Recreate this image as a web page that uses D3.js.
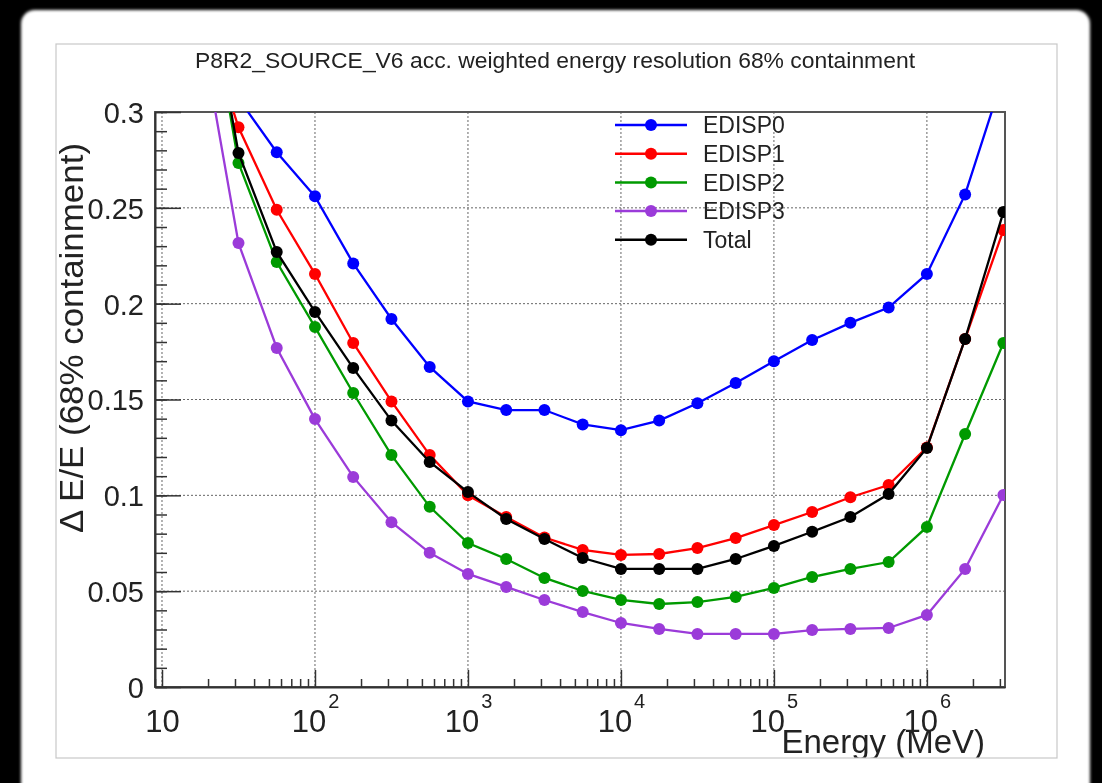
<!DOCTYPE html>
<html>
<head>
<meta charset="utf-8">
<script src="https://cdn.jsdelivr.net/npm/d3@7"></script>
<style>
  body { margin: 0; background: #000; }
  svg { display: block; }
  text { font-family: "Liberation Sans", Arial, Helvetica, sans-serif; fill: #222; }
</style>
</head>
<body>
<div id="chart"></div>
<script>

// energies of the bins (MeV), 4 per decade
var energies = [17.78, 31.62, 56.23, 100, 177.8, 316.2, 562.3, 1000, 1778, 3162, 5623, 10000,
  17780, 31620, 56230, 100000, 177800, 316200, 562300, 1000000, 1778000, 3162000];

// energy resolution (68% containment) for each event type
var edisp0 = [0.37, 0.307, 0.279, 0.256, 0.221, 0.192, 0.167, 0.149, 0.1445, 0.1445, 0.137, 0.134,
  0.139, 0.148, 0.1586, 0.170, 0.181, 0.190, 0.198, 0.2155, 0.257, 0.319];
var edisp1 = [0.355, 0.292, 0.249, 0.2155, 0.1795, 0.149, 0.121, 0.100, 0.0887, 0.078, 0.0715, 0.0689,
  0.0694, 0.0725, 0.0777, 0.0845, 0.0913, 0.099, 0.1054, 0.125, 0.1816, 0.2384];
var edisp2 = [0.39, 0.2734, 0.2217, 0.1878, 0.1534, 0.121, 0.094, 0.0751, 0.0668, 0.0569, 0.0501, 0.0454,
  0.0433, 0.0443, 0.047, 0.0517, 0.0574, 0.0616, 0.0652, 0.0835, 0.132, 0.1795];
var edisp3 = [0.345, 0.2316, 0.1769, 0.1398, 0.1096, 0.086, 0.070, 0.059, 0.0522, 0.0454, 0.0391, 0.0334,
  0.0303, 0.0277, 0.0277, 0.0277, 0.0297, 0.0303, 0.0308, 0.0376, 0.0616, 0.1002];
var total = [0.39, 0.2786, 0.227, 0.1957, 0.1664, 0.139, 0.1174, 0.1017, 0.0877, 0.0772, 0.0673, 0.0616,
  0.0616, 0.0616, 0.0668, 0.0736, 0.081, 0.0887, 0.1007, 0.1247, 0.1816, 0.2478];

var seriesNames = ["EDISP0", "EDISP1", "EDISP2", "EDISP3", "Total"];
var seriesColors = ["#0000ff", "#ff0000", "#009a00", "#9b3bd9", "#000000"];
var seriesValues = [edisp0, edisp1, edisp2, edisp3, total];

// axis ticks
var xDecades = [10, 100, 1000, 10000, 100000, 1000000];
var xExponents = ["", "2", "3", "4", "5", "6"];
var yTicks = [0, 0.05, 0.1, 0.15, 0.2, 0.25, 0.3];
var yTickLabels = ["0", "0.05", "0.1", "0.15", "0.2", "0.25", "0.3"];

var titleText = "P8R2_SOURCE_V6 acc. weighted energy resolution 68% containment";

// SVG attributes
var W = 1102, H = 783;
var plot = {left: 155, right: 1005, top: 112, bottom: 687};

var svg = d3.select("#chart").append("svg")
    .attr("width", W)
    .attr("height", H);

var defs = svg.append("defs");
defs.append("filter").attr("id", "soft")
    .append("feGaussianBlur").attr("stdDeviation", 1.6);
defs.append("filter").attr("id", "fuzz")
    .append("feGaussianBlur").attr("stdDeviation", 0.45);
defs.append("clipPath").attr("id", "plotclip")
  .append("rect")
    .attr("x", plot.left).attr("y", plot.top)
    .attr("width", plot.right - plot.left)
    .attr("height", plot.bottom - plot.top);
defs.append("clipPath").attr("id", "canvasclip")
  .append("rect")
    .attr("x", 56).attr("y", 44).attr("width", 1001).attr("height", 714);

// window background
svg.append("rect")
    .attr("width", W).attr("height", H).attr("fill", "#000");
svg.append("rect")
    .attr("x", 21).attr("y", 10).attr("width", 1069).attr("height", 820)
    .attr("rx", 14)
    .attr("fill", "#fff")
    .attr("filter", "url(#soft)");

var canvas = svg.append("g").attr("clip-path", "url(#canvasclip)")
  .append("g").attr("filter", "url(#fuzz)");

canvas.append("rect")
    .attr("x", 56).attr("y", 44).attr("width", 1001).attr("height", 714)
    .attr("fill", "#fff");

// scales
var x = d3.scaleLog().domain([9.0, 3.24e6]).range([plot.left, plot.right]);
var y = d3.scaleLinear().domain([0, 0.3]).range([plot.bottom, plot.top]);

// grid
canvas.append("g").selectAll("line")
    .data(xDecades)
    .enter().append("line")
    .attr("x1", function(d) { return x(d); })
    .attr("x2", function(d) { return x(d); })
    .attr("y1", plot.top)
    .attr("y2", plot.bottom)
    .attr("stroke", "#666")
    .attr("stroke-width", 1)
    .attr("stroke-dasharray", "2,2");

canvas.append("g").selectAll("line")
    .data(yTicks.slice(1, -1))
    .enter().append("line")
    .attr("x1", plot.left)
    .attr("x2", plot.right)
    .attr("y1", function(d) { return y(d); })
    .attr("y2", function(d) { return y(d); })
    .attr("stroke", "#666")
    .attr("stroke-width", 1)
    .attr("stroke-dasharray", "2,2");

// frame
canvas.append("rect")
    .attr("x", plot.left).attr("y", plot.top)
    .attr("width", plot.right - plot.left)
    .attr("height", plot.bottom - plot.top)
    .attr("fill", "none")
    .attr("stroke", "#555")
    .attr("stroke-width", 2);

// y axis: minor ticks then major ticks with labels
var yMinor = d3.range(0, 0.3001, 0.01);
canvas.append("g")
    .attr("transform", "translate(" + plot.left + ",0)")
    .call(d3.axisLeft(y).tickValues(yMinor).tickSize(-12).tickSizeOuter(0).tickFormat(""))
    .call(function(g) { g.select(".domain").remove(); })
    .selectAll("line").attr("stroke", "#333").attr("stroke-width", 1.5);

var yAxis = canvas.append("g")
    .attr("transform", "translate(" + plot.left + ",0)")
    .call(d3.axisLeft(y).tickValues(yTicks).tickSize(-26).tickSizeOuter(0).tickPadding(11)
      .tickFormat(function(d, i) { return yTickLabels[i]; }));
yAxis.select(".domain").attr("stroke", "#333").attr("stroke-width", 2);
yAxis.selectAll("line").attr("stroke", "#333").attr("stroke-width", 1.5);
yAxis.selectAll("text")
    .attr("font-size", 29)
    .attr("fill", "#222")
    .attr("dy", "0.36em")
    .style("font-family", "'Liberation Sans', Arial, sans-serif");

// x axis: minor ticks (2..9 x 10^n)
var xMinor = x.ticks().filter(function(d) { return xDecades.indexOf(d) < 0; });
canvas.append("g")
    .attr("transform", "translate(0," + plot.bottom + ")")
    .call(d3.axisBottom(x).tickValues(xMinor).tickSize(-8).tickSizeOuter(0).tickFormat(""))
    .call(function(g) { g.select(".domain").remove(); })
    .selectAll("line").attr("stroke", "#333").attr("stroke-width", 1.5);

var xAxis = canvas.append("g")
    .attr("transform", "translate(0," + plot.bottom + ")")
    .call(d3.axisBottom(x).tickValues(xDecades).tickSize(-17).tickSizeOuter(0).tickFormat(""));
xAxis.select(".domain").attr("stroke", "#333").attr("stroke-width", 2);
xAxis.selectAll("line").attr("stroke", "#333").attr("stroke-width", 1.5);

// labels 10, 10^2 ... with superscripts
xAxis.selectAll(".tick").each(function(d, i) {
  var t = d3.select(this).append("text")
      .attr("y", 45)
      .attr("text-anchor", "middle")
      .attr("font-size", 31)
      .attr("fill", "#222")
      .text("10");
  if (xExponents[i] != "") {
    t.append("tspan")
        .attr("dx", 2)
        .attr("dy", -24)
        .attr("font-size", 20)
        .text(xExponents[i]);
  }
});

// curves
var line = d3.line()
    .x(function(d) { return x(d.e); })
    .y(function(d) { return y(d.v); });

var curves = canvas.append("g").attr("clip-path", "url(#plotclip)");

// total is drawn last so it sits on top
seriesNames.forEach(function(name, k) {
  var pts = energies.map(function(e, j) { return {e: e, v: seriesValues[k][j]}; });
  var g = curves.append("g").attr("class", "series");
  g.append("path")
      .datum(pts)
      .attr("d", line)
      .attr("fill", "none")
      .attr("stroke", seriesColors[k])
      .attr("stroke-width", 2.3);
  g.selectAll("circle")
      .data(pts)
      .enter().append("circle")
      .attr("cx", function(d) { return x(d.e); })
      .attr("cy", function(d) { return y(d.v); })
      .attr("r", 6)
      .attr("fill", seriesColors[k]);
});

// legend
var legend = canvas.append("g").attr("transform", "translate(615,125)");
var rows = legend.selectAll("g")
    .data(seriesNames)
    .enter().append("g")
    .attr("transform", function(d, i) { return "translate(0," + (i * 28.7) + ")"; });
rows.append("line")
    .attr("x1", 0).attr("x2", 72)
    .attr("stroke", function(d, i) { return seriesColors[i]; })
    .attr("stroke-width", 2.5);
rows.append("circle")
    .attr("cx", 36).attr("r", 6)
    .attr("fill", function(d, i) { return seriesColors[i]; });
rows.append("text")
    .attr("x", 88)
    .attr("dy", "0.36em")
    .attr("font-size", 23)
    .text(function(d) { return d; });

// title
canvas.append("text")
    .attr("x", 555).attr("y", 68)
    .attr("text-anchor", "middle")
    .attr("font-size", 22)
    .attr("textLength", 720)
    .attr("lengthAdjust", "spacingAndGlyphs")
    .text(titleText);

// axis titles
canvas.append("text")
    .attr("x", 985).attr("y", 753)
    .attr("text-anchor", "end")
    .attr("font-size", 33)
    .text("Energy (MeV)");

canvas.append("text")
    .attr("transform", "translate(83,143) rotate(-90)")
    .attr("text-anchor", "end")
    .attr("font-size", 34)
    .attr("textLength", 390)
    .attr("lengthAdjust", "spacingAndGlyphs")
    .text("\u0394 E/E (68% containment)");

// light border of the canvas
svg.append("rect")
    .attr("x", 56).attr("y", 44).attr("width", 1001).attr("height", 714)
    .attr("fill", "none")
    .attr("stroke", "#c8c8c8")
    .attr("stroke-width", 1.2);

</script>
</body>
</html>
